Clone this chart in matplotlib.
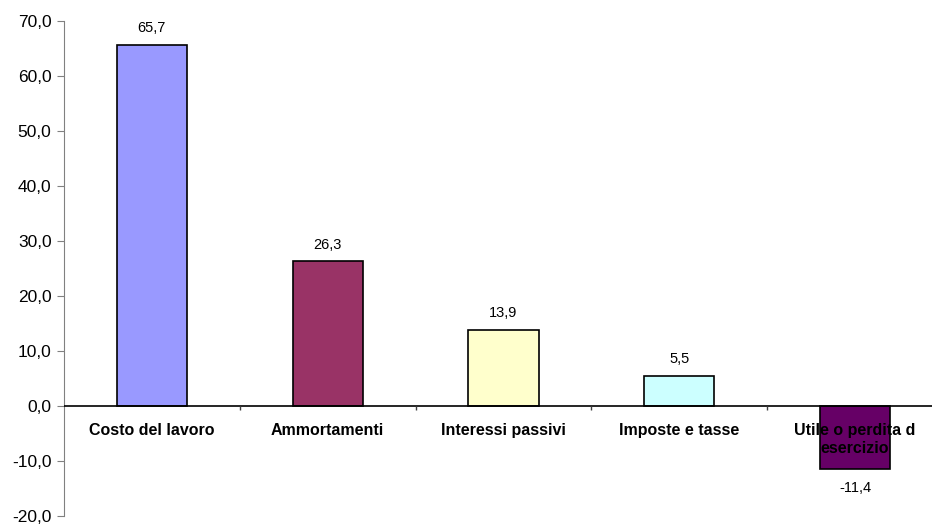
import matplotlib.pyplot as plt
import numpy as np

plt.rcParams['font.family'] = ['Liberation Sans', 'DejaVu Sans']

# data
categories = ['Costo del lavoro', 'Ammortamenti', 'Interessi passivi',
              'Imposte e tasse', 'Utile o perdita d\nesercizio']
values = [65.7, 26.3, 13.9, 5.5, -11.4]
value_labels = ['65,7', '26,3', '13,9', '5,5', '-11,4']
colors = ['#9999FF', '#993366', '#FFFFCC', '#CCFFFF', '#660066']
yticks = [-20, -10, 0, 10, 20, 30, 40, 50, 60, 70]
ytick_labels = ['-20,0', '-10,0', '0,0', '10,0', '20,0', '30,0', '40,0', '50,0', '60,0', '70,0']

fig = plt.figure(figsize=(9.32, 5.24), dpi=100)
ax = fig.add_axes([64/932, 1-516/524, (943-64)/932, (516-21)/524])

x = np.arange(len(values))
ax.bar(x, values, width=0.4, color=colors, edgecolor='black', linewidth=1.2, zorder=2)

ax.set_xlim(-0.5, len(values) - 0.5)
ax.set_ylim(-20, 70)
ax.set_yticks(yticks)
ax.set_yticklabels(ytick_labels, fontsize=12.5)
ax.tick_params(axis='y', direction='out', length=5, color='#808080', pad=4)

for s in ['top', 'right', 'bottom']:
    ax.spines[s].set_visible(False)
ax.spines['left'].set_color('#808080')
ax.set_xticks([])

# zero line with category separators (ticks pointing down)
ax.axhline(0, color='black', linewidth=1.2, zorder=3)
ax.vlines(np.arange(0.5, len(values) - 0.5, 1), -0.8, 0, color='#404040',
          linewidth=1, zorder=3)

# category labels
for xi, c in zip(x, categories):
    ax.annotate(c, xy=(xi, 0), xytext=(0, -12), textcoords='offset points',
                ha='center', va='top', fontsize=11.5, fontweight='bold',
                linespacing=1.3, zorder=4)

# value labels
for xi, v, lab in zip(x, values, value_labels):
    off = 12 if v >= 0 else -14
    ax.annotate(lab, xy=(xi, v), xytext=(0, off), textcoords='offset points',
                ha='center', va='center', fontsize=10.5, zorder=4)

fig.savefig('out.png', dpi=100)
